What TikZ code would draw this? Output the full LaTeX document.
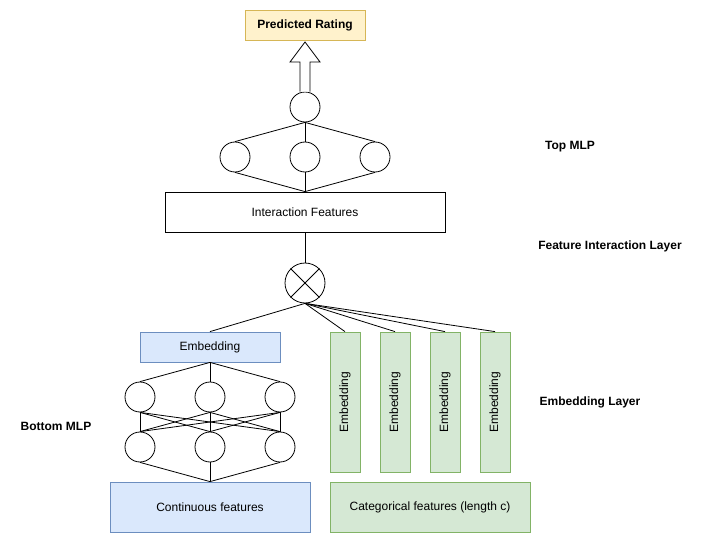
\documentclass[tikz,border=0pt]{standalone}
\usepackage{fontspec}
\setmainfont{Liberation Sans}
\begin{document}
\begin{tikzpicture}[x=1pt,y=-1pt,
  every node/.style={font=\fontsize{12}{14}\selectfont, inner sep=0pt},
  neuron/.style={draw, circle, minimum size=30pt, line width=0.8pt},
  conn/.style={line width=0.8pt},
  plainbox/.style={draw, line width=0.8pt},
  bluebox/.style={draw=blued, fill=bluef, line width=0.8pt},
  greenbox/.style={draw=greend, fill=greenf, line width=0.8pt},
  lbl/.style={font=\bfseries\fontsize{12}{14}\selectfont}
]
\definecolor{bluef}{HTML}{DAE8FC}
\definecolor{blued}{HTML}{6C8EBF}
\definecolor{greenf}{HTML}{D5E8D4}
\definecolor{greend}{HTML}{82B366}
\definecolor{yellowf}{HTML}{FFF2CC}
\definecolor{yellowd}{HTML}{D6B656}
\useasboundingbox (0,0) rectangle (705,543);

% Output
\node[draw=yellowd, fill=yellowf, line width=0.8pt, minimum width=120pt, minimum height=30pt, font=\bfseries\fontsize{12}{14}\selectfont] (out) at (305,25) {Predicted Rating};

% Top MLP
\node[neuron] (t0) at (305,107) {};
\node[neuron] (t1) at (235,157) {};
\node[neuron] (t2) at (305,157) {};
\node[neuron] (t3) at (375,157) {};

\draw[line width=0.8pt, fill=white] (t0.north -| 300,0) -- (300,62) -- (290,62) -- (out.south |- 0,42) -- (320,62) -- (310,62) -- (t0.north -| 310,0);

\node[plainbox, minimum width=280pt, minimum height=40pt] (inter) at (305,212) {Interaction Features};

\foreach \i in {1,2,3} {
  \draw[conn] (t0.south) -- (t\i.north);
  \draw[conn] (t\i.south) -- (inter.north);
}

% Interaction operator
\node[draw, circle, minimum size=40pt, line width=0.8pt] (x) at (305,283) {};
\draw[conn] (x.45) -- (x.225);
\draw[conn] (x.135) -- (x.315);
\draw[conn] (inter.south) -- (x.north);

% Bottom MLP
\node[bluebox, minimum width=140pt, minimum height=30pt] (emb) at (210,347) {Embedding};
\node[neuron] (u1) at (140,397) {};
\node[neuron] (u2) at (210,397) {};
\node[neuron] (u3) at (280,397) {};
\node[neuron] (l1) at (140,447) {};
\node[neuron] (l2) at (210,447) {};
\node[neuron] (l3) at (280,447) {};
\node[bluebox, minimum width=200pt, minimum height=50pt] (cont) at (210,507) {Continuous features};

\foreach \i in {1,2,3} {
  \draw[conn] (emb.south) -- (u\i.north);
  \draw[conn] (l\i.south) -- (cont.north);
  \foreach \j in {1,2,3} {
    \draw[conn] (u\i.south) -- (l\j.north);
  }
}

% Categorical embeddings
\foreach \k/\xx in {1/345,2/395,3/445,4/495} {
  \node[greenbox, minimum width=30pt, minimum height=140pt] (g\k) at (\xx,402) {};
  \node[rotate=90] at (g\k.center) {Embedding};
  \draw[conn] (x.south) -- (g\k.north);
}
\node[greenbox, minimum width=200pt, minimum height=50pt] (cat) at (430,507) {Categorical features (length c)};

\draw[conn] (x.south) -- (emb.north);

% Layer labels
\node[lbl] (ltop) at (570,147) {Top MLP};
\node[lbl] (lfi) at (610,246) {Feature Interaction Layer};
\node[lbl] (lemb) at (590,402) {Embedding Layer};
\node[lbl] (lbot) at (56,426) {Bottom MLP};
\end{tikzpicture}
\end{document}
